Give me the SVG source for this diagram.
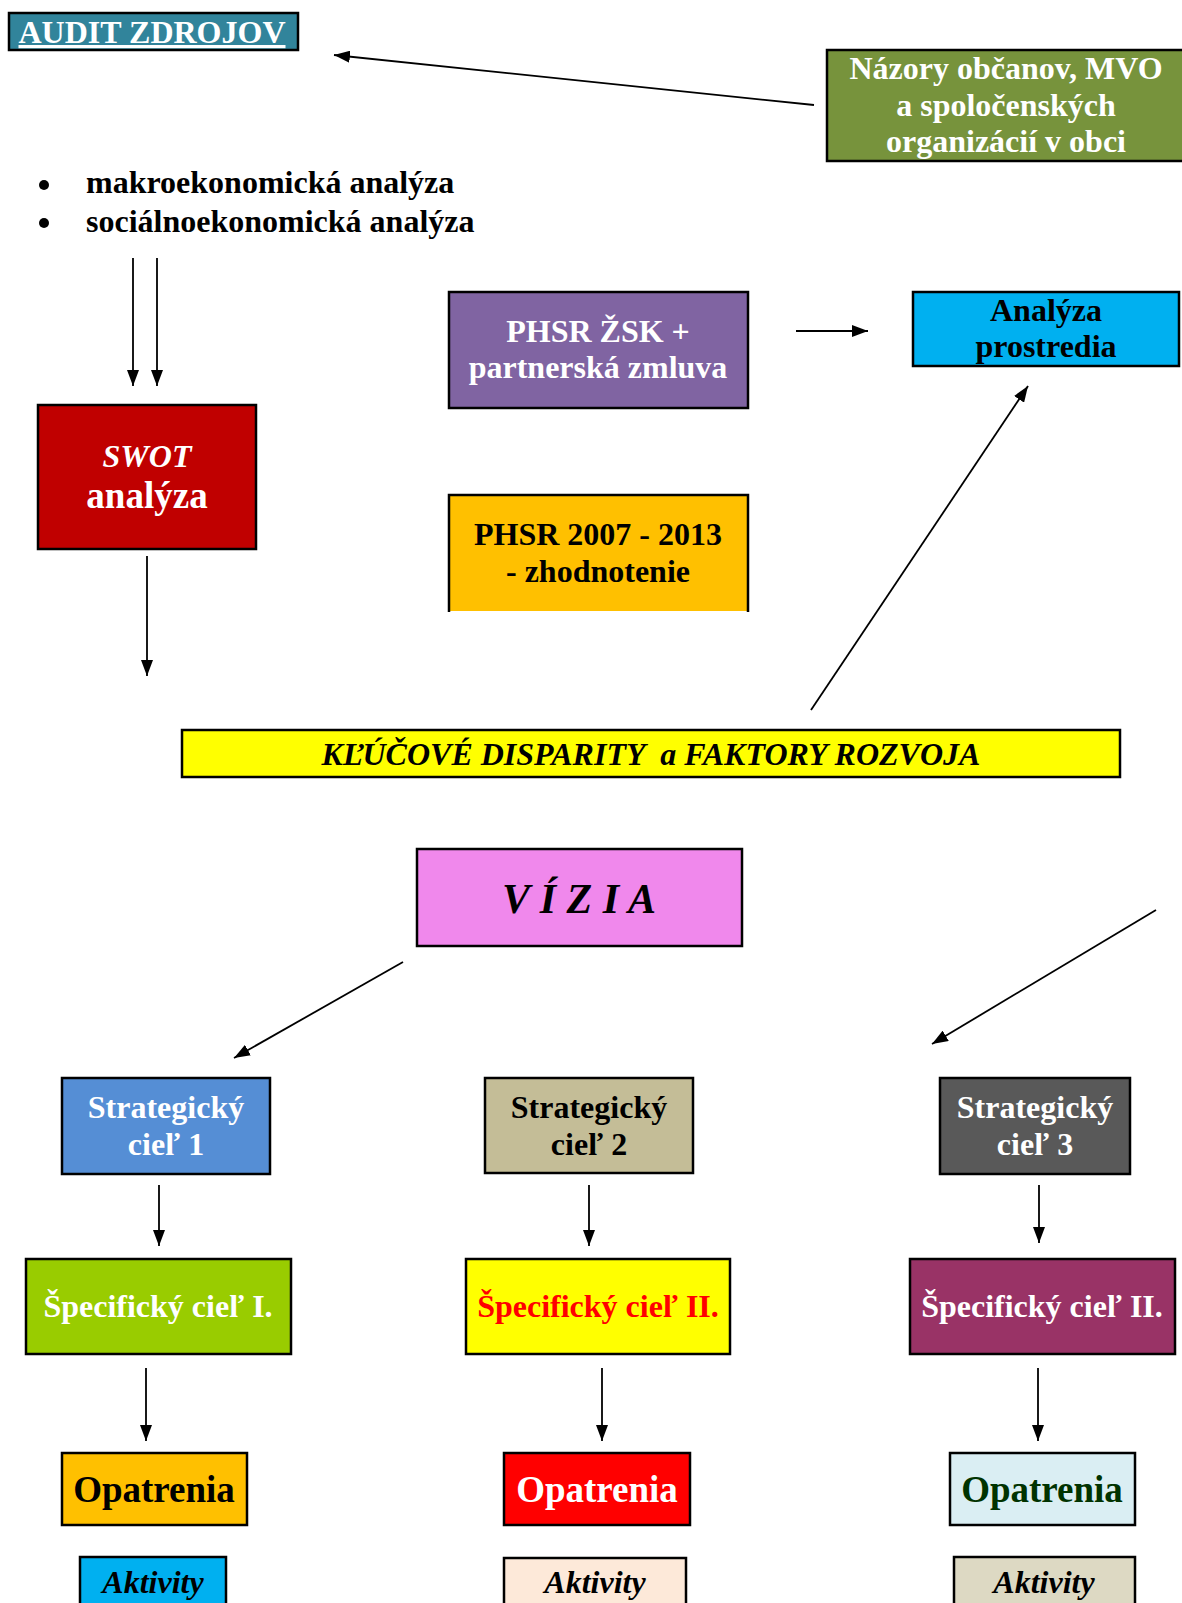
<svg xmlns="http://www.w3.org/2000/svg" width="1182" height="1603" viewBox="0 0 1182 1603">
<style>
.box{stroke:#000;stroke-width:2.5}
.t{font-family:"Liberation Serif","Times New Roman",serif;font-weight:bold;font-size:32px;text-anchor:middle}
.i{font-style:italic}
.w{fill:#fff}
.k{fill:#000}
.c{stroke:#000;stroke-width:1.8;fill:none;marker-end:url(#ah)}
</style>
<defs>
<marker id="ah" markerUnits="userSpaceOnUse" markerWidth="16" markerHeight="12" viewBox="0 0 16 12" refX="16" refY="6" orient="auto">
<path d="M0,0 L16,6 L0,12 z" fill="#000"/>
</marker>
</defs>
<rect width="1182" height="1603" fill="#fff"/>

<g id="audit">
<rect class="box" x="9" y="13" width="289" height="37" fill="#31849B"/>
<text class="t w" x="152" y="43" style="text-decoration:underline">AUDIT ZDROJOV</text>
</g>

<g id="nazory">
<rect class="box" x="827" y="50" width="360" height="111" fill="#77933C"/>
<text class="t w" x="1006" y="79">Názory občanov, MVO</text>
<text class="t w" x="1006" y="116">a spoločenských</text>
<text class="t w" x="1006" y="152">organizácií v obci</text>
</g>

<g id="analyzy">
<circle cx="44" cy="185" r="5" fill="#000"/>
<circle cx="44" cy="223" r="5" fill="#000"/>
<text class="t k" x="86" y="193" style="text-anchor:start">makroekonomická analýza</text>
<text class="t k" x="86" y="232" style="text-anchor:start">sociálnoekonomická analýza</text>
</g>

<g id="swot">
<rect class="box" x="38" y="405" width="218" height="144" fill="#C00000"/>
<text class="t w i" x="147" y="467">SWOT</text>
<text class="t w" x="147" y="508" style="font-size:37px">analýza</text>
</g>

<g id="phsr-zsk">
<rect class="box" x="449" y="292" width="299" height="116" fill="#8064A2"/>
<text class="t w" x="598" y="342">PHSR ŽSK +</text>
<text class="t w" x="598" y="378">partnerská zmluva</text>
</g>

<g id="analyza-prostredia">
<rect class="box" x="913" y="292" width="266" height="74" fill="#00B0F0"/>
<text class="t k" x="1046" y="321">Analýza</text>
<text class="t k" x="1046" y="357">prostredia</text>
</g>

<g id="phsr-2007">
<rect x="449" y="495" width="299" height="116" fill="#FFC000"/>
<path class="box" d="M449,612 V495 H748 V612" fill="none"/>
<text class="t k" x="598" y="545">PHSR 2007 - 2013</text>
<text class="t k" x="598" y="582">- zhodnotenie</text>
</g>

<g id="disparity">
<rect class="box" x="182" y="730" width="938" height="47" fill="#FFFF00"/>
<text class="t k i" x="651" y="765" xml:space="preserve">KĽÚČOVÉ DISPARITY  a FAKTORY ROZVOJA</text>
</g>

<g id="vizia">
<rect class="box" x="417" y="849" width="325" height="97" fill="#F088EC"/>
<text class="t k i" x="579" y="913" style="font-size:42px">V Í Z I A</text>
</g>

<g id="sc1">
<rect class="box" x="62" y="1078" width="208" height="96" fill="#558ED5"/>
<text class="t w" x="166" y="1118">Strategický</text>
<text class="t w" x="166" y="1155">cieľ 1</text>
</g>
<g id="sc2">
<rect class="box" x="485" y="1078" width="208" height="95" fill="#C4BD97"/>
<text class="t k" x="589" y="1118">Strategický</text>
<text class="t k" x="589" y="1155">cieľ 2</text>
</g>
<g id="sc3">
<rect class="box" x="940" y="1078" width="190" height="96" fill="#595959"/>
<text class="t w" x="1035" y="1118">Strategický</text>
<text class="t w" x="1035" y="1155">cieľ 3</text>
</g>

<g id="spc1">
<rect class="box" x="26" y="1259" width="265" height="95" fill="#99CC00"/>
<text class="t w" x="158" y="1317">Špecifický cieľ I.</text>
</g>
<g id="spc2">
<rect class="box" x="466" y="1259" width="264" height="95" fill="#FFFF00"/>
<text class="t" x="598" y="1317" fill="#FF0000">Špecifický cieľ II.</text>
</g>
<g id="spc3">
<rect class="box" x="910" y="1259" width="265" height="95" fill="#993366"/>
<text class="t w" x="1042" y="1317">Špecifický cieľ II.</text>
</g>

<g id="op1">
<rect class="box" x="62" y="1453" width="185" height="72" fill="#FFC000"/>
<text class="t k" x="154" y="1502" style="font-size:37px">Opatrenia</text>
</g>
<g id="op2">
<rect class="box" x="504" y="1453" width="186" height="72" fill="#FF0000"/>
<text class="t w" x="597" y="1502" style="font-size:37px">Opatrenia</text>
</g>
<g id="op3">
<rect class="box" x="950" y="1453" width="185" height="72" fill="#DAEEF3"/>
<text class="t" x="1042" y="1502" style="font-size:37px" fill="#003300">Opatrenia</text>
</g>

<g id="ak1">
<rect class="box" x="80" y="1557" width="146" height="60" fill="#00B0F0"/>
<text class="t k i" x="153" y="1593">Aktivity</text>
</g>
<g id="ak2">
<rect class="box" x="504" y="1558" width="182" height="60" fill="#FDE9D9"/>
<text class="t k i" x="595" y="1593">Aktivity</text>
</g>
<g id="ak3">
<rect class="box" x="954" y="1557" width="181" height="60" fill="#DDD9C3"/>
<text class="t k i" x="1044" y="1593">Aktivity</text>
</g>

<g id="connectors">
<line class="c" x1="814" y1="105" x2="334" y2="55"/>
<line class="c" x1="133" y1="258" x2="133" y2="386"/>
<line class="c" x1="157" y1="258" x2="157" y2="386"/>
<line class="c" x1="147" y1="556" x2="147" y2="676"/>
<line class="c" x1="796" y1="331" x2="868" y2="331"/>
<line class="c" x1="811" y1="710" x2="1028" y2="386"/>
<line class="c" x1="403" y1="962" x2="234" y2="1058"/>
<line class="c" x1="1156" y1="910" x2="932" y2="1044"/>
<line class="c" x1="159" y1="1185" x2="159" y2="1246"/>
<line class="c" x1="589" y1="1185" x2="589" y2="1246"/>
<line class="c" x1="1039" y1="1185" x2="1039" y2="1243"/>
<line class="c" x1="146" y1="1368" x2="146" y2="1441"/>
<line class="c" x1="602" y1="1368" x2="602" y2="1441"/>
<line class="c" x1="1038" y1="1368" x2="1038" y2="1441"/>
</g>
</svg>
